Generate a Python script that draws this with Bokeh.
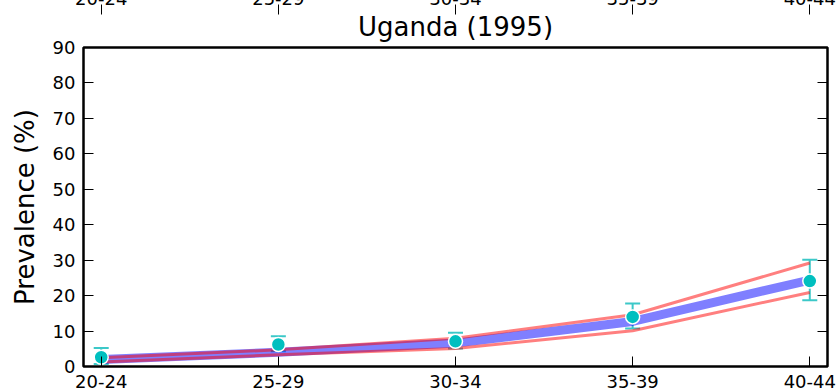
from bokeh.plotting import figure
from bokeh.models import (ColumnDataSource, Range1d, FixedTicker, LinearAxis,
                          Whisker, TeeHead, Title)
from bokeh.embed import file_html
from bokeh.resources import INLINE

# ---- data ----
categories = ["20-24", "25-29", "30-34", "35-39", "40-44"]
observed = [2.6, 6.2, 7.1, 14.0, 24.1]
observed_low = [0.7, 4.3, 5.1, 10.7, 18.7]
observed_high = [5.2, 8.5, 9.5, 17.8, 30.1]
model_mean = [2.0, 4.0, 6.6, 12.7, 24.4]
model_upper = [2.5, 4.7, 8.0, 14.6, 29.2]
model_lower = [1.3, 3.3, 5.1, 10.1, 20.9]
y_ticks = [0, 10, 20, 30, 40, 50, 60, 70, 80, 90]
title_text = "Uganda (1995)"
y_label = "Prevalence (%)"

xs = list(range(len(categories)))
src = ColumnDataSource(dict(x=xs, obs=observed, lo=observed_low, hi=observed_high,
                            mean=model_mean, up=model_upper, low=model_lower))

FONT = "DejaVu Sans"

p = figure(width=839, height=415, output_backend="svg", toolbar_location=None,
           x_range=Range1d(-0.1, len(categories) - 1 + 0.1), y_range=Range1d(0, 90),
           min_border_left=83, min_border_right=12, min_border_top=70,
           min_border_bottom=26, x_axis_location=None, y_axis_location=None,
           title=None)
p.styles = {"position": "relative", "top": "-23px", "margin-bottom": "-23px"}
p.grid.visible = False
p.outline_line_color = "black"
p.outline_line_width = 2.5
p.background_fill_color = "white"
p.border_fill_color = "white"

labels = {i: c for i, c in enumerate(categories)}


def style_axis(ax, show_labels=True):
    ax.axis_line_color = None
    ax.major_tick_in = 10
    ax.major_tick_out = 0
    ax.minor_tick_line_color = None
    ax.major_tick_line_color = "black"
    ax.major_tick_line_width = 1
    ax.major_label_text_font = FONT
    ax.major_label_text_font_size = "18px" if show_labels else "1px"
    ax.major_label_text_color = "black" if show_labels else None
    ax.major_label_standoff = 8 if show_labels else 0


xb = LinearAxis(ticker=FixedTicker(ticks=xs), major_label_overrides=labels)
style_axis(xb)
p.add_layout(xb, "below")

yl = LinearAxis(ticker=FixedTicker(ticks=y_ticks), axis_label=y_label)
style_axis(yl)
yl.axis_label_text_font = FONT
yl.axis_label_text_font_size = "26px"
yl.axis_label_text_font_style = "normal"
yl.axis_label_text_color = "black"
yl.axis_label_standoff = 10
p.add_layout(yl, "left")

yr = LinearAxis(ticker=FixedTicker(ticks=y_ticks))
style_axis(yr, show_labels=False)
p.add_layout(yr, "right")

t = Title(text=title_text, align="center", text_font=FONT, text_font_size="26px",
          text_font_style="normal", text_color="black", standoff=11)
p.add_layout(t, "above")

xt = LinearAxis(ticker=FixedTicker(ticks=xs), major_label_overrides=labels)
style_axis(xt)
xt.major_label_standoff = 0
p.add_layout(xt, "above")

# error bars
wh = Whisker(source=src, base="x", upper="hi", lower="lo", dimension="height",
             line_color="#3cc8c8", line_width=2,
             upper_head=TeeHead(size=15, line_color="#3cc8c8", line_width=2),
             lower_head=TeeHead(size=15, line_color="#3cc8c8", line_width=2))
p.add_layout(wh)

p.line("x", "mean", source=src, line_color="blue", line_alpha=0.5, line_width=9)
p.line("x", "up", source=src, line_color="red", line_alpha=0.5, line_width=3)
p.line("x", "low", source=src, line_color="red", line_alpha=0.5, line_width=3)
p.scatter("x", "obs", source=src, size=14, fill_color="#00bfbf",
          line_color="white", line_width=1.5)

open("out.html", "w").write(file_html(p, INLINE))
